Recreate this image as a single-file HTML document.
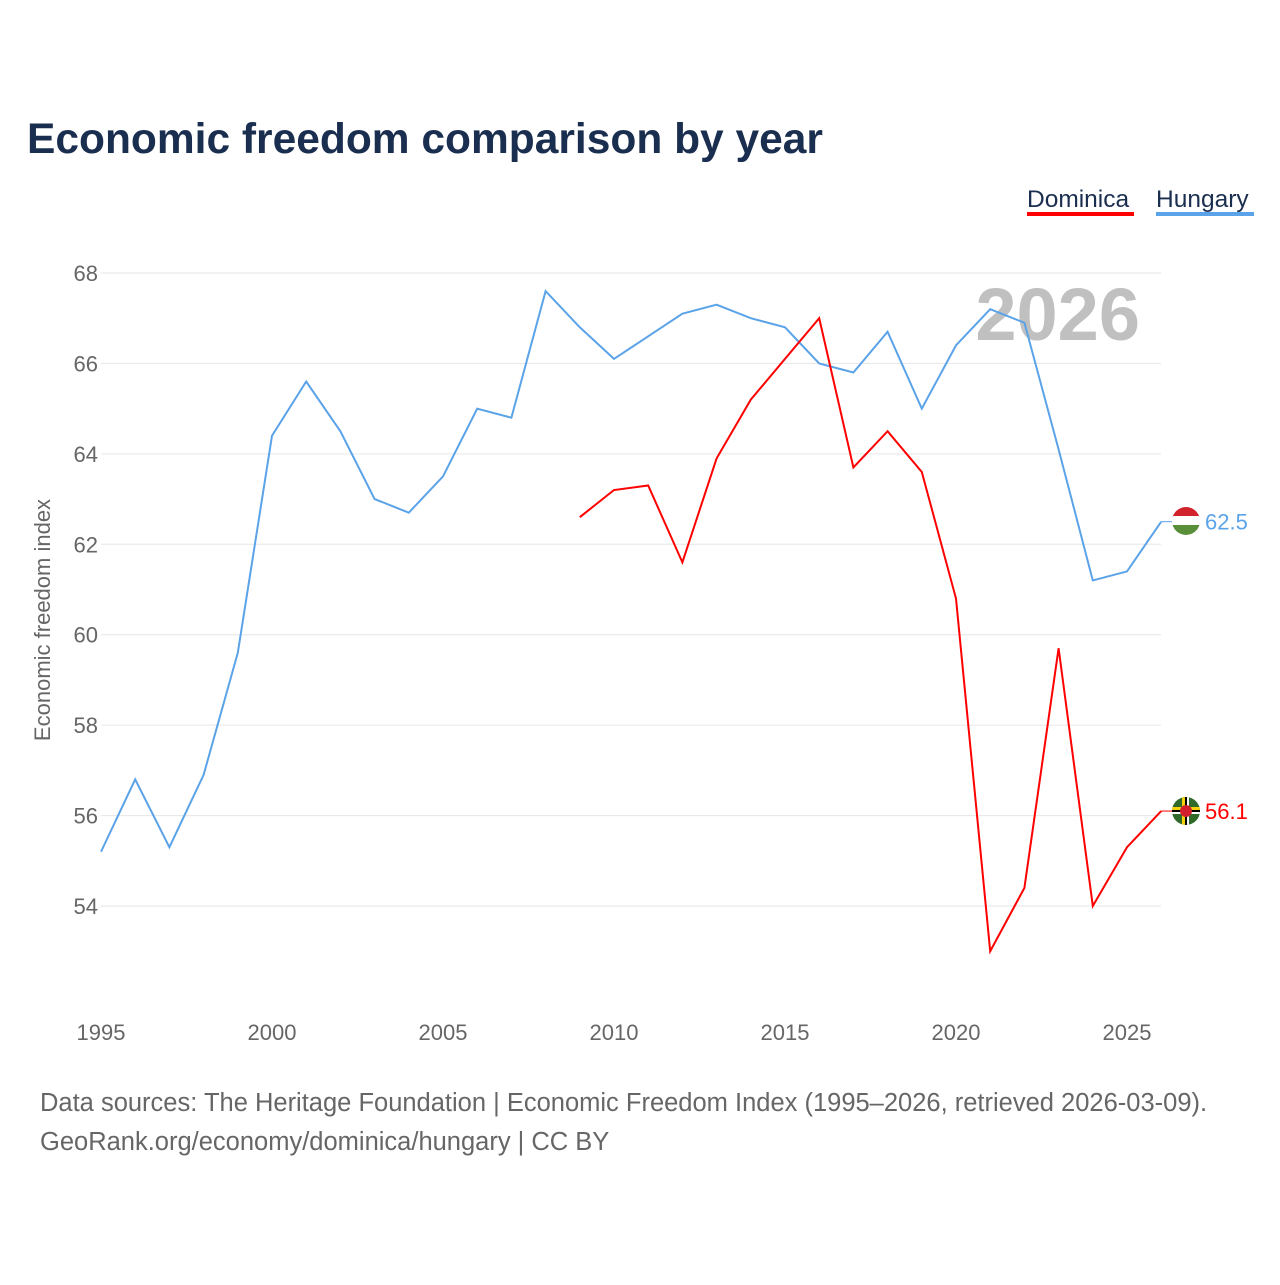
<!DOCTYPE html>
<html><head><meta charset="utf-8"><style>
body{margin:0;background:#fff;font-family:"Liberation Sans",sans-serif;}
svg text{font-family:"Liberation Sans",sans-serif;}
</style></head><body>
<svg width="1280" height="1280" viewBox="0 0 1280 1280" id="chart">
<defs>
<clipPath id="huc"><circle cx="1186" cy="521" r="14"/></clipPath>
<clipPath id="dmc"><circle cx="1186" cy="811" r="14"/></clipPath>
</defs>
<text x="27" y="153" font-size="42.5" font-weight="bold" fill="#1a2e4f">Economic freedom comparison by year</text>
<g>
<text x="1027" y="207" font-size="24.5" fill="#1a2e4f">Dominica</text>
<rect x="1027" y="212" width="107" height="4" fill="#ff0000"/>
</g>
<g>
<text x="1156" y="207" font-size="24.5" fill="#1a2e4f">Hungary</text>
<rect x="1156" y="212" width="98" height="4" fill="#5ba3e8"/>
</g>
<text x="1140" y="340" font-size="74" font-weight="bold" fill="#c0c0c0" text-anchor="end">2026</text>
<g id="grid"></g>
<g id="xt"></g>
<text transform="translate(50,620) rotate(-90)" font-size="22" fill="#666" text-anchor="middle">Economic freedom index</text>
<g id="series"></g>
<g clip-path="url(#huc)">
<rect x="1172" y="507" width="28" height="10" fill="#d2232c"/><rect x="1172" y="516" width="28" height="10" fill="#fff"/><rect x="1172" y="525" width="28" height="10" fill="#5a8f3a"/>
</g>
<g clip-path="url(#dmc)">
<rect x="1172" y="797" width="28" height="28" fill="#2f6a2a"/>
<rect x="1182" y="797" width="3" height="28" fill="#f5d10c"/><rect x="1185" y="797" width="2" height="28" fill="#000"/><rect x="1187" y="797" width="2" height="28" fill="#fff"/>
<rect x="1172" y="807" width="28" height="3" fill="#f5d10c"/><rect x="1172" y="810" width="28" height="2" fill="#000"/><rect x="1172" y="812" width="28" height="2" fill="#fff"/>
<circle cx="1186" cy="811" r="6" fill="#d11f2c"/>
</g>
<text x="40" y="1111" font-size="25.5" fill="#666">Data sources: The Heritage Foundation | Economic Freedom Index (1995–2026, retrieved 2026-03-09).</text>
<text x="40" y="1150" font-size="25.5" fill="#666">GeoRank.org/economy/dominica/hungary | CC BY</text>
</svg>
<script>
const years=[1995,1996,1997,1998,1999,2000,2001,2002,2003,2004,2005,2006,2007,2008,2009,2010,2011,2012,2013,2014,2015,2016,2017,2018,2019,2020,2021,2022,2023,2024,2025,2026];
const hungary=[55.2,56.8,55.3,56.9,59.6,64.4,65.6,64.5,63.0,62.7,63.5,65.0,64.8,67.6,66.8,66.1,66.6,67.1,67.3,67.0,66.8,66.0,65.8,66.7,65.0,66.4,67.2,66.9,64.1,61.2,61.4,62.5];
const domYears=[2009,2010,2011,2012,2013,2014,2015,2016,2017,2018,2019,2020,2021,2022,2023,2024,2025,2026];
const dominica=[62.6,63.2,63.3,61.6,63.9,65.2,66.1,67.0,63.7,64.5,63.6,60.8,53.0,54.4,59.7,54.0,55.3,56.1];
const yTicks=[54,56,58,60,62,64,66,68];
const xTicks=[1995,2000,2005,2010,2015,2020,2025];
const NS="http://www.w3.org/2000/svg";
const x=v=>101+(v-1995)*(1127-101)/30;
const y=v=>273+(68-v)*(906-273)/14;
function mk(t,a,p){const e=document.createElementNS(NS,t);for(const k in a)e.setAttribute(k,a[k]);p.appendChild(e);return e;}
const grid=document.getElementById('grid');
yTicks.forEach(t=>{
 const l=mk('line',{x1:101,x2:1161,y1:y(t),y2:y(t),stroke:'#e6e6e6','stroke-width':1},grid);
 
 
 const tx=mk('text',{x:98,y:y(t)+8,'font-size':22,fill:'#666','text-anchor':'end'},grid);
 tx.textContent=t;
 
 
});
const xt=document.getElementById('xt');
xTicks.forEach(t=>{
 const tx=mk('text',{x:x(t),y:1040,'font-size':22,fill:'#666','text-anchor':'middle'},xt);
 tx.textContent=t;
 
 
});
const s=document.getElementById('series');
function line(xs,vs,c,name){
 const p=mk('path',{d:xs.map((a,i)=>(i?'L':'M')+x(a)+','+y(vs[i])).join(''),fill:'none',stroke:c,'stroke-width':2},s);
 
 
 const lx=x(xs[xs.length-1]);
 const ly=y(vs[vs.length-1]);
 mk('line',{x1:lx,x2:1174,y1:ly,y2:ly,stroke:c,'stroke-width':1},s);
 const t=mk('text',{x:1205,y:ly+8,'font-size':22,fill:c},s);
 t.textContent=vs[vs.length-1].toFixed(1);
 
 
}
line(years,hungary,'#5ba3e8','hungary-line');
line(domYears,dominica,'#ff0000','dominica-line');
</script>
</body></html>
